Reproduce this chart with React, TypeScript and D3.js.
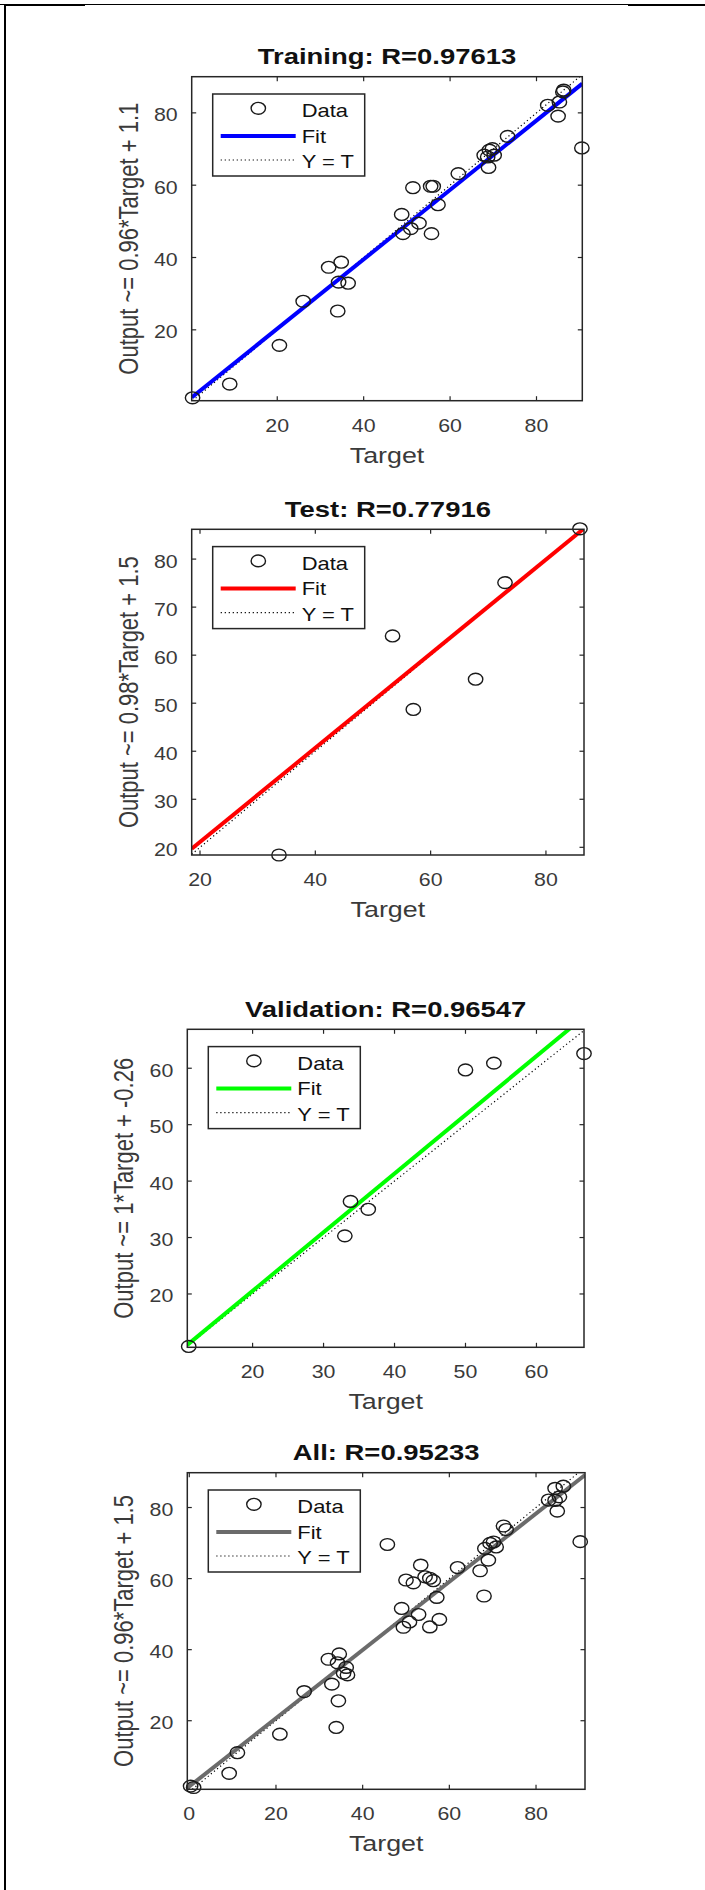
import React from 'react';
import * as d3 from 'd3';

// Training set
const trainTarget = [0.4, 9, 20.5, 26, 31.9, 34.8, 34.2, 36.4, 34.0, 48.8, 49.1, 50.9, 52.8, 51.4, 55.5, 56.1, 57.2, 55.7, 61.9, 68.7, 69.1, 69.8, 70.2, 68.9, 67.9, 73.3, 82.6, 85.0, 85.3, 86.1, 86.3, 90.5];
const trainOutput = [1.2, 5.0, 15.7, 27.9, 37.3, 38.7, 33.2, 32.9, 25.2, 51.9, 46.6, 48.0, 49.5, 59.3, 59.7, 59.7, 54.6, 46.6, 63.2, 67.8, 69.7, 70.1, 68.3, 64.9, 68.3, 73.5, 82.1, 79.1, 83.0, 85.8, 86.3, 70.3];

// Test set
const testTarget = [85.9, 72.9, 53.4, 67.8, 57.0, 33.7];
const testOutput = [86.3, 75.1, 64.0, 55.0, 48.7, 18.4];

// Validation set
const valTarget = [11.0, 33.8, 36.3, 33.0, 50.0, 54.0, 66.7];
const valOutput = [10.7, 36.4, 35.0, 30.3, 59.7, 60.9, 62.6];

// All
const allTarget = [0.3, 1.0, 9.2, 11.1, 20.9, 26.5, 32.1, 34.6, 34.2, 32.9, 36.2, 36.5, 35.6, 34.4, 33.9, 45.7, 49.0, 49.4, 50.8, 52.9, 50.0, 51.7, 53.4, 54.4, 55.5, 56.3, 57.1, 55.5, 57.7, 61.9, 67.1, 68.0, 69.0, 68.2, 69.4, 70.2, 70.8, 72.5, 73.1, 82.9, 84.9, 85.4, 84.4, 86.3, 84.4, 90.2];
const allOutput = [1.6, 1.2, 5.2, 11.0, 16.2, 28.2, 37.3, 38.8, 36.3, 30.3, 35.0, 32.9, 33.4, 25.6, 18.1, 69.6, 51.6, 46.3, 47.8, 49.9, 59.6, 58.8, 63.8, 60.5, 60.1, 59.4, 54.7, 46.4, 48.5, 63.1, 62.2, 55.1, 65.2, 68.5, 69.9, 70.3, 68.9, 74.8, 73.8, 82.1, 79.0, 83.0, 82.0, 86.0, 85.4, 70.4];

const titles = ['Training: R=0.97613', 'Test: R=0.77916', 'Validation: R=0.96547', 'All: R=0.95233'];
const yLabels = ['Output ~= 0.96*Target + 1.1', 'Output ~= 0.98*Target + 1.5', 'Output ~= 1*Target + -0.26', 'Output ~= 0.96*Target + 1.5'];
const fitSlopes = [0.96, 0.98, 1.04, 0.96];
const fitIntercepts = [1.1, 1.5, -0.26, 1.5];
const xDomains = [[0.2, 90.6], [18.56, 86.6], [10.8, 66.7], [-0.46, 91.3]];
const yDomains = [[0.4, 90.0], [18.4, 86.2], [10.55, 66.9], [0.7, 89.8]];
const xTicks = [[20, 40, 60, 80], [20, 40, 60, 80], [20, 30, 40, 50, 60], [0, 20, 40, 60, 80]];
const yTicks = [[20, 40, 60, 80], [20, 30, 40, 50, 60, 70, 80], [20, 30, 40, 50, 60], [20, 40, 60, 80]];
const legendLabels = ['Data', 'Fit', 'Y = T'];

const targets = [trainTarget, testTarget, valTarget, allTarget];
const outputs = [trainOutput, testOutput, valOutput, allOutput];

// layout / style
const fitColors = ['#0000ff', '#ff0000', '#00ff00', '#6b6b6b'];
const boxes = [
  { left: 191.7, right: 582.3, top: 76.7, bottom: 400.7 },
  { left: 191.7, right: 584, top: 529.3, bottom: 855 },
  { left: 187.3, right: 584, top: 1029.3, bottom: 1347.3 },
  { left: 187.3, right: 585, top: 1472.7, bottom: 1789.3 },
];
const SX = 1.22; // the source image is stretched sideways
const FONT = '"Liberation Sans", Arial, Helvetica, sans-serif';
const AXC = '#262626';

const T = ({ x, y, size, anchor = 'start', bold = false, rotate = false, fill = AXC, children }: any) => (
  <text
    transform={`translate(${x},${y}) scale(${SX},1)${rotate ? ' rotate(-90)' : ''}`}
    fontFamily={FONT}
    fontSize={size}
    fontWeight={bold ? 'bold' : 'normal'}
    textAnchor={anchor}
    fill={fill}
  >
    {children}
  </text>
);

function Panel({ i }: { i: number }) {
  const box = boxes[i];
  const x = d3.scaleLinear().domain(xDomains[i]).range([box.left, box.right]);
  const y = d3.scaleLinear().domain(yDomains[i]).range([box.bottom, box.top]);
  const clipId = `clip-${i}`;
  const [x0, x1] = xDomains[i];
  const line = d3.line<[number, number]>().x(d => x(d[0])).y(d => y(d[1]));
  const fitPts: [number, number][] = [[x0, fitSlopes[i] * x0 + fitIntercepts[i]], [x1, fitSlopes[i] * x1 + fitIntercepts[i]]];
  const lo = Math.max(x0, yDomains[i][0]);
  const hi = Math.min(x1, yDomains[i][1]);
  const idPts: [number, number][] = [[lo, lo], [hi, hi]];
  const cx = (box.left + box.right) / 2;
  const cy = (box.top + box.bottom) / 2;
  const lg = { x: box.left + 21, y: box.top + 17.3, w: 152, h: 82 };
  const tk = 4.5;

  return (
    <g>
      <defs>
        <clipPath id={clipId}>
          <rect x={box.left} y={box.top} width={box.right - box.left} height={box.bottom - box.top} />
        </clipPath>
      </defs>
      <T x={cx} y={box.top - 12.5} size={22.5} anchor="middle" bold fill="#111">{titles[i]}</T>

      {/* ticks on all four sides */}
      {xTicks[i].map(t => (
        <g key={'x' + t}>
          <line x1={x(t)} x2={x(t)} y1={box.bottom} y2={box.bottom - tk} stroke={AXC} strokeWidth={1.2} />
          <line x1={x(t)} x2={x(t)} y1={box.top} y2={box.top + tk} stroke={AXC} strokeWidth={1.2} />
          <T x={x(t)} y={box.bottom + 31} size={17.5} anchor="middle" fill="#3a3a3a">{t}</T>
        </g>
      ))}
      {yTicks[i].map(t => (
        <g key={'y' + t}>
          <line x1={box.left} x2={box.left + tk} y1={y(t)} y2={y(t)} stroke={AXC} strokeWidth={1.2} />
          <line x1={box.right} x2={box.right - tk} y1={y(t)} y2={y(t)} stroke={AXC} strokeWidth={1.2} />
          <T x={box.left - 14} y={y(t) + 8.5} size={17.5} anchor="end" fill="#3a3a3a">{t}</T>
        </g>
      ))}
      <T x={cx} y={box.bottom + 62} size={22} anchor="middle" fill="#3a3a3a">Target</T>
      <T x={box.left - 54} y={cy} size={22} anchor="middle" rotate fill="#3a3a3a">{yLabels[i]}</T>

      <g clipPath={`url(#${clipId})`}>
        <path d={line(idPts) || ''} stroke="#000" strokeWidth={1.2} strokeDasharray="1.2 2.8" fill="none" />
        <path d={line(fitPts) || ''} stroke={fitColors[i]} strokeWidth={4} fill="none" />
      </g>
      {targets[i].map((t, k) => (
        <ellipse key={k} cx={x(t)} cy={y(outputs[i][k])} rx={7.2} ry={5.9} fill="none" stroke="#1a1a1a" strokeWidth={1.4} />
      ))}

      <rect x={box.left} y={box.top} width={box.right - box.left} height={box.bottom - box.top} fill="none" stroke={AXC} strokeWidth={1.5} />

      {/* legend */}
      <rect x={lg.x} y={lg.y} width={lg.w} height={lg.h} fill="#fff" stroke={AXC} strokeWidth={1.5} />
      <ellipse cx={lg.x + 45.6} cy={lg.y + 14.3} rx={7.2} ry={5.9} fill="none" stroke="#1a1a1a" strokeWidth={1.4} />
      <line x1={lg.x + 8} x2={lg.x + 83} y1={lg.y + 42} y2={lg.y + 42} stroke={fitColors[i]} strokeWidth={4} />
      <line x1={lg.x + 8} x2={lg.x + 84} y1={lg.y + 66} y2={lg.y + 66} stroke="#000" strokeWidth={1.2} strokeDasharray="1.2 2.8" />
      {legendLabels.map((s, k) => (
        <T key={s} x={lg.x + 89} y={lg.y + 23.3 + k * 25.5} size={18} fill="#111">{s}</T>
      ))}
    </g>
  );
}

export default function App() {
  return (
    <div style={{ position: 'absolute', left: 0, top: 0, width: 705, height: 1890, background: '#fff' }}>
      <svg width={705} height={1890} style={{ display: 'block' }}>
        <rect x={0} y={0} width={705} height={1890} fill="#fff" />
        {/* page frame */}
        <line x1={0} x2={705} y1={4.5} y2={4.5} stroke="#000" strokeWidth={1} />
        <line x1={4} x2={85} y1={5} y2={5} stroke="#000" strokeWidth={2} />
        <line x1={628} x2={705} y1={5} y2={5} stroke="#000" strokeWidth={2} />
        <line x1={5} x2={5} y1={4} y2={1890} stroke="#000" strokeWidth={2} />
        {titles.map((_, i) => <Panel key={i} i={i} />)}
      </svg>
    </div>
  );
}
